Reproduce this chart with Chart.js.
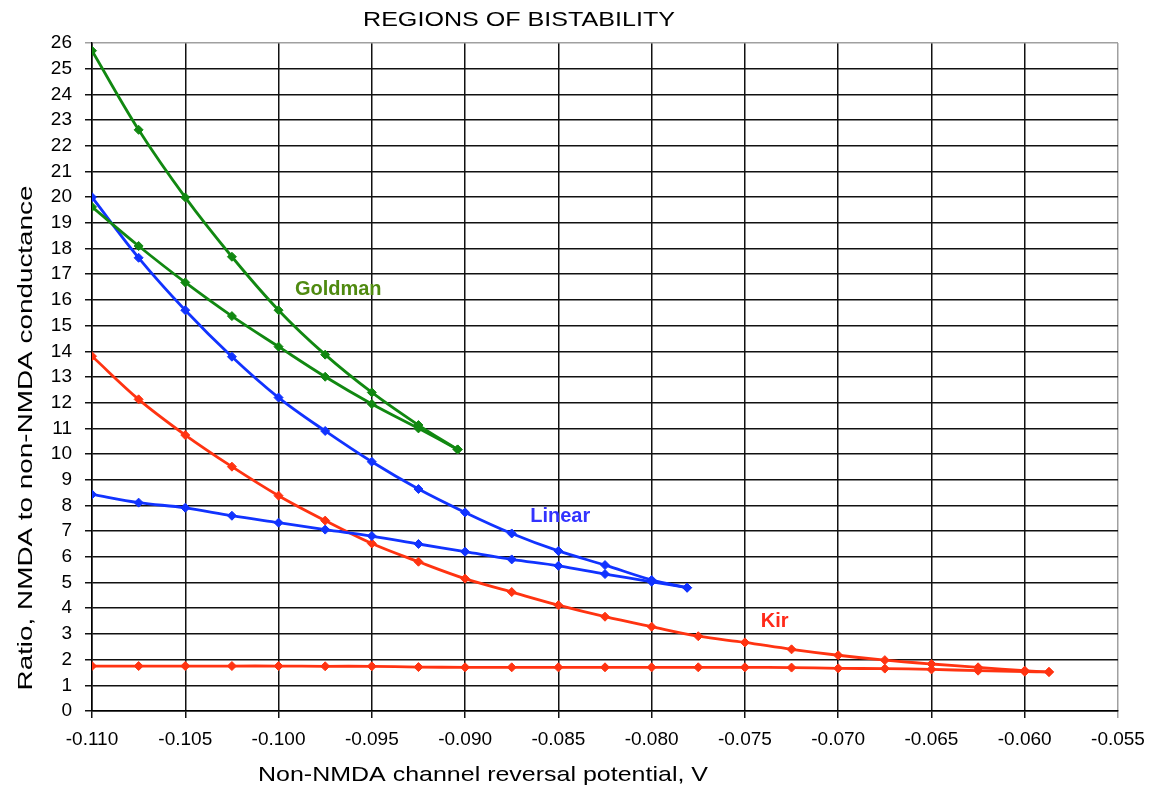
<!DOCTYPE html>
<html>
<head>
<meta charset="utf-8">
<script src="https://cdn.jsdelivr.net/npm/chart.js@4.4.1/dist/chart.umd.min.js"></script>
<style>
  html, body { margin: 0; padding: 0; background: #fff; }
  #wrap { width: 1151px; height: 788px; position: relative; }
</style>
</head>
<body>
<div id="wrap"><canvas id="chart1"></canvas></div>
<script>
// x positions (V) for each curve
const xGoldman = [-0.110, -0.1075, -0.105, -0.1025, -0.100, -0.0975, -0.095, -0.0925, -0.0904];
const xLinear = [-0.110, -0.1075, -0.105, -0.1025, -0.100, -0.0975, -0.095, -0.0925, -0.090, -0.0875, -0.085, -0.0825, -0.080, -0.0781];
const xKir = [-0.110, -0.1075, -0.105, -0.1025, -0.100, -0.0975, -0.095, -0.0925, -0.090, -0.0875, -0.085,
              -0.0825, -0.080, -0.0775, -0.075, -0.0725, -0.070, -0.0675, -0.065, -0.0625, -0.060, -0.0587];

// ratio values, upper and lower branch of each region
const goldmanUpper = [25.7, 22.62, 19.99, 17.68, 15.6, 13.87, 12.4, 11.13, 10.18];
const goldmanLower = [19.62, 18.1, 16.68, 15.37, 14.18, 13.01, 11.95, 11.0, 10.18];
const linearUpper = [20.0, 17.64, 15.6, 13.79, 12.2, 10.9, 9.7, 8.64, 7.73, 6.91, 6.23, 5.68, 5.10, 4.80];
const linearLower = [8.43, 8.11, 7.91, 7.6, 7.33, 7.06, 6.81, 6.5, 6.2, 5.9, 5.65, 5.33, 5.03, 4.80];
const kirUpper = [13.81, 12.13, 10.74, 9.51, 8.38, 7.41, 6.52, 5.81, 5.15, 4.63, 4.12,
                  3.67, 3.28, 2.91, 2.67, 2.40, 2.17, 1.98, 1.83, 1.70, 1.57, 1.52];
const kirLower = [1.75, 1.75, 1.75, 1.75, 1.75, 1.74, 1.74, 1.71, 1.70, 1.70, 1.70,
                  1.70, 1.70, 1.70, 1.70, 1.69, 1.66, 1.65, 1.62, 1.57, 1.53, 1.52];

// curve labels placed in data coordinates
const curveLabels = [
    { text: 'Goldman', x: -0.0968, y: 16.42, color: '#4f8a10' },
    { text: 'Linear', x: -0.0849, y: 7.59, color: '#3333ff' },
    { text: 'Kir', x: -0.0734, y: 3.5, color: '#ff2a1a' }
];

const chartTitle = 'REGIONS OF BISTABILITY';
const xTitle = 'Non-NMDA channel reversal potential, V';
const yTitle = 'Ratio, NMDA to non-NMDA conductance';

const FONT = '"Liberation Sans", Arial, sans-serif';

function pts(xs, ys) {
    return xs.map((x, i) => ({ x: x, y: ys[i] }));
}

function series(xs, ys, color) {
    return {
        data: pts(xs, ys),
        borderColor: color,
        backgroundColor: color,
        borderWidth: 2.8,
        pointStyle: 'rectRot',
        pointRadius: 4.5,
        pointBorderWidth: 1,
        tension: 0.35,
        fill: false
    };
}

const GREEN = '#118811';
const BLUE = '#1133ff';
const RED = '#ff3311';

// text stretched horizontally to the width it has in the picture
function stretchedText(ctx, text, cx, cy, width) {
    const w = ctx.measureText(text).width;
    ctx.save();
    ctx.translate(cx, cy);
    ctx.scale(width / w, 1);
    ctx.fillText(text, 0, 0);
    ctx.restore();
}

// titles and curve names
const textPlugin = {
    id: 'texts',
    afterDatasetsDraw(chart) {
        const ctx = chart.ctx;
        const xs = chart.scales.x, ys = chart.scales.y;
        ctx.save();
        ctx.fillStyle = '#000';
        ctx.textAlign = 'center';
        ctx.textBaseline = 'middle';
        ctx.font = '21px ' + FONT;
        stretchedText(ctx, chartTitle, 519, 20, 312);
        stretchedText(ctx, xTitle, 483, 775, 450);
        ctx.translate(26, 438);
        ctx.rotate(-Math.PI / 2);
        stretchedText(ctx, yTitle, 0, 0, 505);
        ctx.restore();

        ctx.save();
        ctx.textAlign = 'center';
        ctx.textBaseline = 'middle';
        ctx.font = 'bold 20px ' + FONT;
        curveLabels.forEach(l => {
            ctx.fillStyle = l.color;
            ctx.fillText(l.text, xs.getPixelForValue(l.x), ys.getPixelForValue(l.y));
        });
        ctx.restore();
    }
};

new Chart(document.getElementById('chart1'), {
    type: 'line',
    data: {
        datasets: [
            series(xGoldman, goldmanUpper, GREEN),
            series(xGoldman, goldmanLower, GREEN),
            series(xLinear, linearUpper, BLUE),
            series(xLinear, linearLower, BLUE),
            series(xKir, kirUpper, RED),
            series(xKir, kirLower, RED)
        ]
    },
    options: {
        responsive: true,
        maintainAspectRatio: false,
        animation: false,
        layout: { padding: { top: 43, right: 33, left: 0, bottom: 0 } },
        plugins: {
            legend: { display: false },
            tooltip: { enabled: false },
            title: { display: false }
        },
        scales: {
            x: {
                type: 'linear',
                min: -0.110,
                max: -0.055,
                afterFit(scale) {
                    scale.height = 77;
                    scale.paddingLeft = 0;
                    scale.paddingRight = 0;
                },
                ticks: {
                    stepSize: 0.005,
                    autoSkip: false,
                    color: '#000',
                    padding: 10,
                    maxRotation: 0,
                    font: { family: FONT, size: 19 },
                    callback: v => v.toFixed(3)
                },
                grid: {
                    color: c => (c.tick && Math.abs(c.tick.value + 0.055) < 1e-6) ? '#a0a0a0' : '#111',
                    lineWidth: 1.5,
                    tickLength: 7
                },
                border: { color: '#000', width: 1.5 }
            },
            y: {
                min: 0,
                max: 26,
                afterFit(scale) {
                    scale.width = 92;
                    scale.paddingTop = 0;
                    scale.paddingBottom = 0;
                },
                ticks: {
                    stepSize: 1,
                    autoSkip: false,
                    color: '#000',
                    padding: 13,
                    font: { family: FONT, size: 19 }
                },
                grid: {
                    color: c => (c.tick && c.tick.value === 26) ? '#a0a0a0' : '#111',
                    lineWidth: 1.5,
                    tickLength: 7
                },
                border: { color: '#000', width: 1.5 }
            }
        }
    },
    plugins: [textPlugin]
});
</script>
</body>
</html>
